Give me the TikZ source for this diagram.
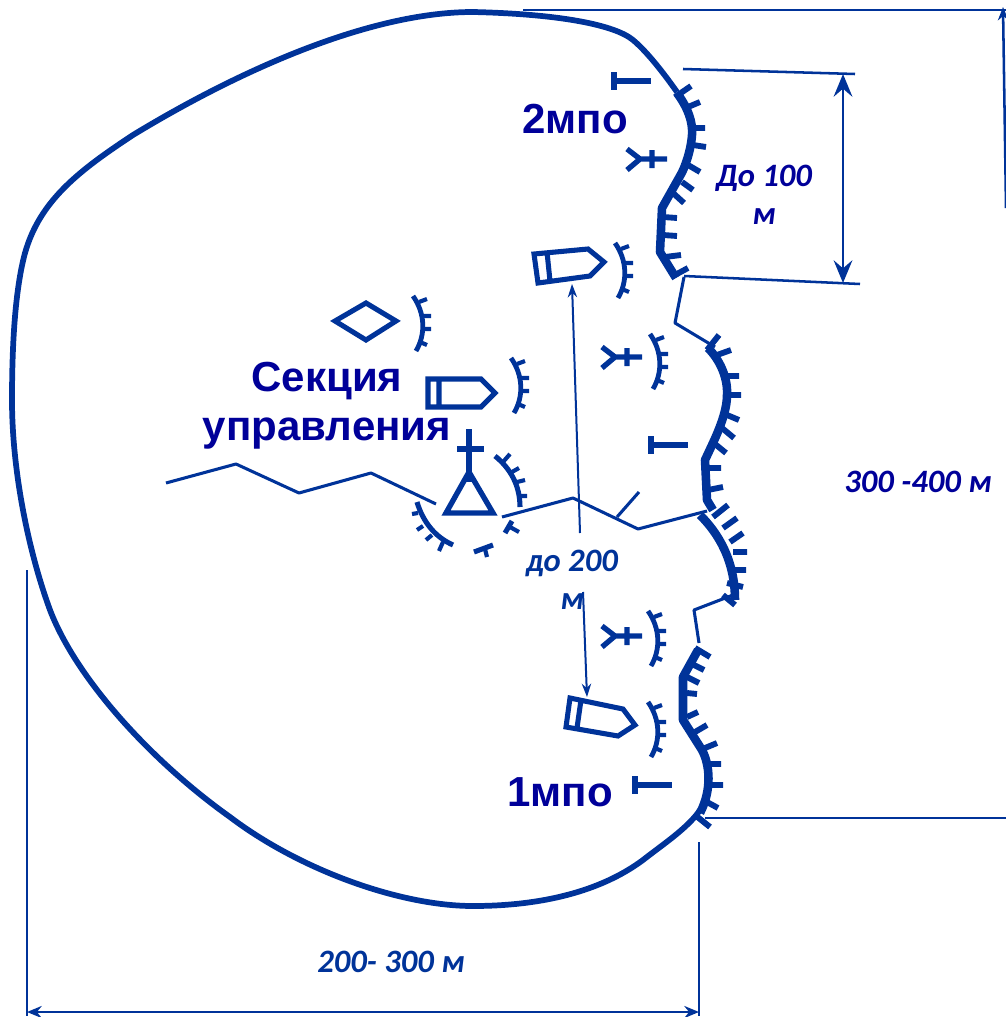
\documentclass[tikz,border=0pt]{standalone}
\usepackage{fontspec}
\setmainfont{Liberation Sans}
\newfontfamily\cali{Carlito}
\usetikzlibrary{arrows.meta}
\definecolor{mblue}{HTML}{003399}
\definecolor{navy}{HTML}{000099}
\tikzset{
  x=0.75pt,y=-0.75pt,
  outline/.style={draw=mblue,line width=4.3pt,line join=round},
  trench/.style={draw=mblue,line width=6.4pt,line join=round},
  tickmark/.style={draw=mblue,line width=4.4pt},
  thinline/.style={draw=mblue,line width=2.3pt,line join=round},
  dimline/.style={draw=mblue,line width=1.9pt},
  symb/.style={draw=mblue,line width=3.8pt,line join=miter},
  smallline/.style={draw=mblue,line width=3.1pt},
  bigarrow/.style={draw=mblue,line width=2.2pt,{Stealth[length=17pt,width=14pt,inset=6pt]}-{Stealth[length=17pt,width=14pt,inset=6pt]}},
  longarrow/.style={draw=mblue,line width=1.5pt,-{Stealth[length=10pt,width=7pt]}},
  bigtext/.style={text=navy,font=\bfseries\fontsize{31.5}{36}\selectfont,align=center,inner sep=0pt},
  dimtext/.style={text=navy,font=\cali\bfseries\itshape\fontsize{24.5}{29}\selectfont,align=center,inner sep=0pt},
  dimtextb/.style={text=mblue,font=\cali\bfseries\itshape\fontsize{24.5}{29}\selectfont,align=center,inner sep=0pt},
  smallarc/.pic={
    \draw[smallline,line width=3.6pt] (0,0) .. controls (12,17) and (13,38) .. (3,55);
    \draw[smallline] (6,6)--(14,3) (10,20)--(18,20) (10,33)--(18,33) (7,46)--(14,49);
  },
  yfork/.pic={
    \draw[smallline,line width=4pt] (-13,-10)--(0,0)--(-13,11) (0,0)--(27,0) (12,-9)--(12,9);
  },
  tbar/.pic={
    \draw[smallline,line width=4.2pt] (0,-9)--(0,9) (0,0)--(37,0);
  }
}
\begin{document}
\begin{tikzpicture}
\useasboundingbox (0,0) rectangle (1006,1017);
% outer outline
\draw[outline] (677,92) .. controls (660,68) and (645,50) .. (633,40)
  .. controls (615,25) and (560,14) .. (473,12)
  .. controls (370,12) and (240,70) .. (133,135)
  .. controls (80,170) and (40,200) .. (25,253)
  .. controls (15,290) and (12,345) .. (12,400)
  .. controls (12,470) and (28,550) .. (50,610)
  .. controls (76,678) and (150,760) .. (230,817)
  .. controls (300,870) and (400,906) .. (473,906)
  .. controls (540,906) and (600,892) .. (643,860)
  .. controls (662,845) and (688,828) .. (700,810);
% trenches
\draw[trench] (677,93) .. controls (688,108) and (693,122) .. (692,135) .. controls (691,150) and (685,168) .. (680,176) -- (662,208) -- (660,252) -- (676,278);
\draw[tickmark] (675,97)--(691,86) (688,107)--(700,102) (693,128)--(705,128) (693,145)--(706,147) (688,165)--(700,172) (682,182)--(693,190) (673,193)--(684,203) (663,217)--(677,218) (663,235)--(677,236) (665,257)--(681,255) (675,275)--(688,268);
\draw[trench] (708,348) .. controls (720,360) and (728,378) .. (727,395) .. controls (727,410) and (720,428) .. (712,445) -- (705,460) -- (707,500) -- (713,510);
\draw[tickmark] (707,350)--(719,335) (717,355)--(731,350) (727,376)--(739,376) (728,395)--(741,395) (727,415)--(739,420) (722,428)--(734,438) (715,444)--(726,453) (707,468)--(721,468) (708,490)--(723,487) (713,517)--(728,505) (723,528)--(737,518);
\draw[trench] (700,515) .. controls (718,533) and (735,560) .. (735,600);
\draw[tickmark] (730,542)--(743,533) (733,552)--(747,552) (735,570)--(746,570) (727,583)--(743,587) (723,595)--(735,605);
\draw[trench] (698,650) -- (683,677) -- (683,720) -- (702,750) .. controls (710,765) and (712,790) .. (700,813);
\draw[tickmark] (695,648)--(710,657) (690,663)--(704,670) (687,677)--(699,683) (687,693)--(697,694) (687,717)--(698,712) (695,732)--(707,725) (705,748)--(717,743) (708,764)--(721,764) (710,785)--(723,785) (707,802)--(718,808) (695,815)--(710,827);
% thin communication trenches
\draw[thinline] (684,277)--(675,323)--(715,347);
\draw[thinline] (733,595)--(694,610)--(699,643);
\draw[thinline] (502,517)--(573,498)--(638,529)--(707,511);
\draw[thinline] (617,517)--(639,492);
\draw[thinline] (166,483)--(236,464)--(299,493)--(371,473)--(436,504);
% dimension lines
\coordinate (t1) at (683,69); \coordinate (t2) at (855,74);
\coordinate (b1) at (684,276); \coordinate (b2) at (860,284);
\draw[dimline] (t1)--(t2);
\draw[dimline] (b1)--(b2);
\draw[bigarrow] (843,74)--(843,283);
\coordinate (r1) at (523,10); \coordinate (r2) at (1006,10);
\draw[dimline] (r1)--(r2);
\draw[dimline,-{Stealth[length=10pt,width=8pt]}] (1006,208)--(1003,7);
\coordinate (r3) at (705,818); \coordinate (r4) at (1006,818);
\draw[dimline] (r3)--(r4);
\coordinate (l1) at (27,570); \coordinate (l2) at (27,1016);
\coordinate (l3) at (699,842); \coordinate (l4) at (699,1016);
\draw[dimline] (l1)--(l2);
\draw[dimline] (l3)--(l4);
\draw[draw=mblue,line width=1.9pt,{Stealth[length=11pt,width=9pt]}-{Stealth[length=11pt,width=9pt]}] (27,1012)--(699,1012);
% long arrows
\coordinate (a1) at (580,533); \coordinate (a2) at (572,284);
\coordinate (a3) at (583,592); \coordinate (a4) at (587,697);
\draw[longarrow] (a1)--(a2);
\draw[longarrow] (a3)--(a4);
% symbols
\pic at (614,81) {tbar};
\pic at (651,445) {tbar};
\pic at (635,785) {tbar};
\pic at (640,159) {yfork};
\pic at (615,357) {yfork};
\pic at (615,636) {yfork};
\pic at (615,243) {smallarc};
\pic at (413,296) {smallarc};
\pic at (511,358) {smallarc};
\pic at (650,334) {smallarc};
\pic at (648,611) {smallarc};
\pic at (648,702) {smallarc};
\draw[symb] (335,321)--(366,303)--(396,321)--(366,340)--cycle;
\draw[symb] (428,379)--(481,379)--(495,393)--(481,407)--(428,407)--cycle (439,379)--(439,407);
\draw[symb] (534,254)--(588,249)--(604,262)--(590,276)--(538,283)--cycle (547,252)--(550,281);
\draw[symb] (570,698)--(623,709)--(635,725)--(618,736)--(566,727)--cycle (581,700)--(577,728);
% command post
\draw[symb,line width=4pt] (469,472)--(493,513)--(446,513)--cycle;
\draw[symb,line width=4pt] (469,429)--(469,482) (457,449)--(484,449);
\draw[smallline,line width=3.8pt] (495,456) .. controls (510,468) and (520,485) .. (520,507);
\draw[smallline] (503,462)--(510,454) (512,472)--(519,468) (517,482)--(525,480) (518,496)--(527,496);
\draw[smallline,line width=3.8pt] (417,502) .. controls (423,522) and (435,537) .. (453,545);
\draw[smallline] (418,513)--(412,514) (423,526)--(417,530) (432,535)--(426,540) (443,542)--(439,551);
\draw[smallline,line width=3.8pt] (474,552)--(493,545);
\draw[smallline] (485,549)--(487,557);
\draw[smallline,line width=3.8pt] (512,521)--(505,533);
\draw[smallline] (510,527)--(519,532);
% labels
\node[bigtext] (n2) at (575,119) {2мпо};
\node[bigtext] (n1) at (560,792) {1мпо};
\node[bigtext,anchor=center] (s1) at (327,381) {Секция};
\node[bigtext,anchor=center] (s2) at (327,434) {управления};
\node[dimtext] (d100) at (764,178) {До 100};
\node[dimtext] (d100m) at (764,217) {м};
\node[dimtext] (d300) at (918,482) {300 -400 м};
\node[dimtextb] (d200) at (572,563) {до 200};
\node[dimtextb] (d200m) at (572,602) {м};
\node[dimtextb] (d2003) at (391,962) {200- 300 м};
\end{tikzpicture}
\end{document}
